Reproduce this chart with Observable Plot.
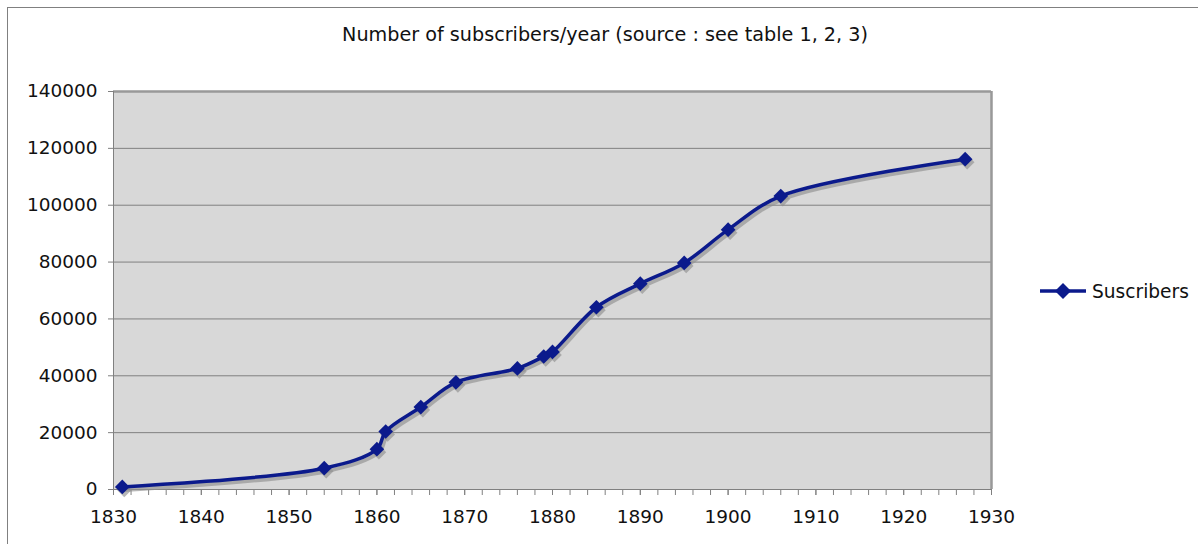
<!DOCTYPE html>
<html>
<head>
<meta charset="utf-8">
<script src="https://cdn.jsdelivr.net/npm/d3@7"></script>
<script src="https://cdn.jsdelivr.net/npm/@observablehq/plot@0.6"></script>
<style>
  html, body { margin: 0; padding: 0; background: #fff; }
  body { width: 1198px; height: 544px; overflow: hidden; position: relative; font-family: "DejaVu Sans", Verdana, sans-serif; }
  #border { position: absolute; left: 7px; top: 7px; width: 1300px; height: 700px; border-left: 1px solid #808080; border-top: 1px solid #808080; }
  #title { position: absolute; left: 0; top: 23px; width: 1210px; text-align: center; font-size: 19.2px; color: #111; }
  #chart { position: absolute; left: 0; top: 70px; }
  #legend { position: absolute; left: 1036px; top: 278px; display: flex; align-items: center; font-size: 18.6px; color: #111; }
</style>
</head>
<body>
<div id="border"></div>
<div id="title">Number of subscribers/year (source : see table 1, 2, 3)</div>
<div id="chart"></div>
<div id="legend"></div>
<script>
const years = [1831, 1854, 1860, 1861, 1865, 1869, 1876, 1879, 1880, 1885, 1890, 1895, 1900, 1906, 1927];
const subscribers = [900, 7500, 14200, 20400, 29000, 37700, 42600, 46800, 48400, 64100, 72400, 79700, 91400, 103200, 116200];
const seriesName = "Suscribers";
const yTicks = [0, 20000, 40000, 60000, 80000, 100000, 120000, 140000];
const xMajorTicks = [1830, 1840, 1850, 1860, 1870, 1880, 1890, 1900, 1910, 1920, 1930];
const xMinorTicks = d3.range(1830, 1931, 2);

const data = years.map((y, i) => ({year: y, value: subscribers[i]}));
const lineColor = "#0b1a8c";

const chart = Plot.plot({
  width: 1198,
  height: 474,
  marginTop: 21,
  marginBottom: 55,
  marginLeft: 113,
  marginRight: 207,
  style: {fontFamily: "DejaVu Sans, Verdana, sans-serif", fontSize: "18.5px", color: "#111", background: "transparent"},
  x: {domain: [1830, 1930]},
  y: {domain: [0, 140000]},
  marks: [
    Plot.rect([0], {x1: 1830, x2: 1930, y1: 0, y2: 140000, fill: "#d8d8d8"}),
    Plot.gridY(yTicks, {stroke: "#808080", strokeOpacity: 1, strokeWidth: 1}),
    Plot.ruleX([1930], {stroke: "#999", strokeWidth: 2.5}),
    Plot.ruleY([140000], {stroke: "#999", strokeWidth: 2.5}),
    Plot.ruleX([1830], {stroke: "#808080", strokeWidth: 1}),
    Plot.ruleY([0], {stroke: "#808080", strokeWidth: 1}),
    Plot.axisY(yTicks, {tickSize: 5, tickPadding: 11, tickFormat: d3.format("d"), stroke: "#808080", label: null}),
    Plot.axisX(xMinorTicks, {tickSize: 6, tickFormat: () => "", stroke: "#808080", label: null}),
    Plot.axisX(xMajorTicks, {tickSize: 6, tickPadding: 14, tickFormat: d3.format("d"), stroke: "#808080", label: null}),
    // shadow
    Plot.line(data, {x: "year", y: "value", curve: "catmull-rom", stroke: "#909090", strokeOpacity: 0.65, strokeWidth: 4, dx: 2, dy: 3}),
    Plot.dot(data, {x: "year", y: "value", symbol: "diamond2", r: 6.6, fill: "#909090", fillOpacity: 0.65, dx: 2, dy: 3}),
    Plot.line(data, {x: "year", y: "value", curve: "catmull-rom", stroke: lineColor, strokeWidth: 3.5}),
    Plot.dot(data, {x: "year", y: "value", symbol: "diamond2", r: 6.6, fill: lineColor})
  ]
});
document.getElementById("chart").appendChild(chart);

const legend = document.getElementById("legend");
legend.innerHTML = `<svg width="54" height="26" style="margin-right:2px">
  <line x1="4" y1="13" x2="50" y2="13" stroke="${lineColor}" stroke-width="3.5"/>
  <path d="M27,5 L35,13 L27,21 L19,13 Z" fill="${lineColor}"/>
</svg><span>${seriesName}</span>`;
</script>
</body>
</html>
